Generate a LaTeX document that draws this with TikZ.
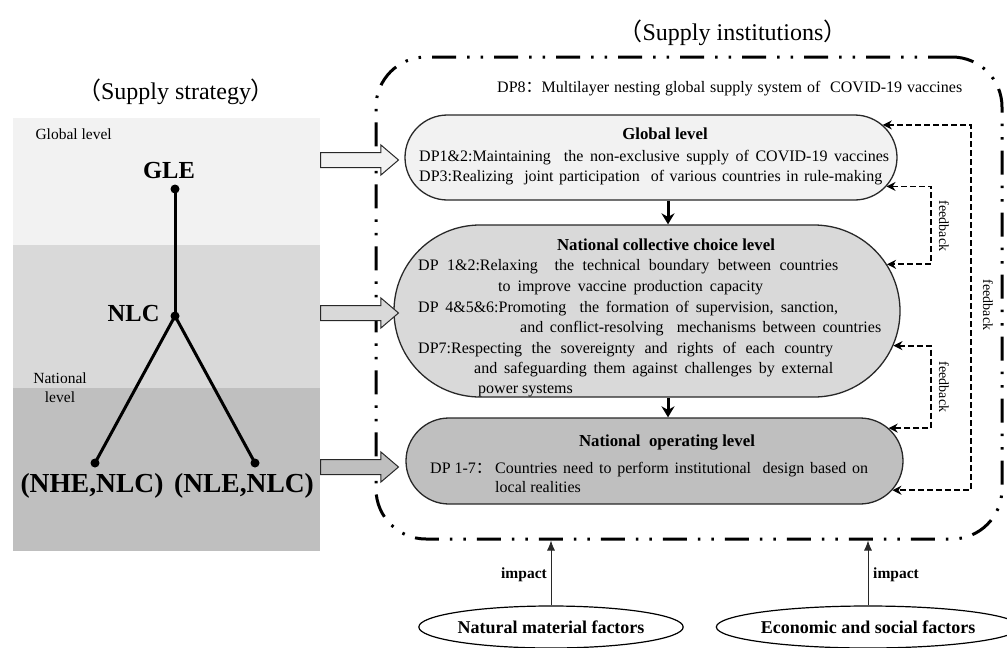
\documentclass[tikz,border=0pt]{standalone}
\usepackage{fontspec}
\setmainfont{Liberation Serif}
\newfontfamily\cjkfont{Noto Sans CJK SC}
\usepackage{tikz}
\usetikzlibrary{arrows,arrows.meta,shapes,positioning,calc}
\definecolor{lvlone}{RGB}{242,242,242}
\definecolor{lvltwo}{RGB}{217,217,217}
\definecolor{lvlthree}{RGB}{191,191,191}
\definecolor{edgegray}{RGB}{40,40,40}
\newcommand{\txtsize}{\fontsize{16pt}{19pt}\selectfont}
\newcommand{\titlesize}{\fontsize{24pt}{28pt}\selectfont}
\newcommand{\fitline}[2]{\makebox[#1][s]{#2}}
\tikzstyle{levelbox} = [rounded rectangle, draw=edgegray, line width=1.3pt, inner sep=0pt]
\tikzstyle{blockarrow} = [single arrow, draw=edgegray, line width=1pt, inner sep=0pt, inner ysep=7pt, minimum height=78pt, single arrow head extend=7.5pt, single arrow tip angle=81]
\tikzstyle{boxtext} = [anchor=base west, inner sep=0pt, font=\txtsize]
\tikzstyle{boxtitle} = [anchor=base, inner sep=0pt, font=\fontsize{16.8pt}{19pt}\selectfont\bfseries]
\tikzstyle{arrow} = [line width=3pt, -{Stealth[length=11pt,width=13pt]}]
\tikzstyle{fbarrow} = [line width=1.8pt, dash pattern=on 6pt off 3pt, {Stealth[length=9pt,width=9pt]}-{Stealth[length=9pt,width=9pt]}]
\tikzstyle{fblabel} = [rotate=-90, inner sep=0pt, font=\fontsize{14pt}{16pt}\selectfont]
\tikzstyle{impactarrow} = [line width=0.8pt, draw=edgegray, -{Latex[length=10pt,width=8pt]}]
\tikzstyle{impactlabel} = [inner sep=0pt, font=\fontsize{15.5pt}{17pt}\selectfont\bfseries]
\tikzstyle{factor} = [ellipse, draw=black, line width=1.2pt, inner sep=0pt, font=\fontsize{18pt}{20pt}\selectfont\bfseries]
\tikzstyle{dpframe} = [draw=black, line width=3pt, rounded corners=50pt, dash pattern=on 24pt off 11pt on 2.5pt off 11pt on 2.5pt off 11pt]
\tikzstyle{tree} = [line width=3pt]
\tikzstyle{dot} = [circle, fill=black, inner sep=0pt, minimum size=9pt]

\begin{document}
\begin{tikzpicture}[x=1pt, y=-1pt]
\useasboundingbox (0,0) rectangle (1007,648);

% Strategy panel
\fill[lvlone] (13,118) rectangle (320,245);
\fill[lvltwo] (13,245) rectangle (320,388);
\fill[lvlthree] (13,388) rectangle (320,551);
\node[font=\titlesize] (strat) at (176,92) {{\cjkfont （}Supply strategy{\cjkfont ）}};
\node[anchor=base west, font=\fontsize{15.5pt}{19pt}\selectfont] (glbl) at (32,139) {Global level};
\node[align=center, inner sep=0pt, font=\fontsize{15.5pt}{19pt}\selectfont] (nlbl) at (60,388) {National\\level};

\node[dot] (gledot) at (175,189) {};
\node[dot] (nlcdot) at (175,316) {};
\node[dot] (nhedot) at (95,463) {};
\node[dot] (nledot) at (255,463) {};
\draw[tree] (gledot.center) -- (nlcdot.center);
\draw[tree] (nlcdot.center) -- (nhedot.center);
\draw[tree] (nlcdot.center) -- (nledot.center);
\node[font=\fontsize{24.5pt}{26pt}\selectfont\bfseries] (gle) at (169,171) {GLE};
\node[anchor=east, font=\fontsize{24.5pt}{26pt}\selectfont\bfseries] (nlc) at (163,314) {NLC};
\node[font=\fontsize{27.5pt}{30pt}\selectfont\bfseries] (nhe) at (92,486) {(NHE,NLC)};
\node[font=\fontsize{27.5pt}{30pt}\selectfont\bfseries] (nle) at (244,486) {(NLE,NLC)};

% Institutions
\node[font=\titlesize] (inst) at (733,33) {{\cjkfont （}Supply institutions{\cjkfont ）}};
\node[dpframe, minimum width=626pt, minimum height=482pt] (frame) at (689,298) {};
\node[boxtext] (dp8) at (497,92) {\fitline{465pt}{DP8{\cjkfont ：}Multilayer nesting global supply system of\ \ COVID-19 vaccines}};

\node[levelbox, fill=lvlone, minimum width=492pt, minimum height=85pt] (box1) at (651,157.5) {};
\node[levelbox, fill=lvltwo, minimum width=506pt, minimum height=172pt] (box2) at (647,311) {};
\node[levelbox, fill=lvlthree, minimum width=497pt, minimum height=86pt] (box3) at (654.5,461) {};

\node[boxtitle] (t1) at (665,139) {Global level};
\node[boxtext] (g1) at (419,161) {\fitline{470pt}{DP1\&2:Maintaining\ \ the non-exclusive supply of COVID-19 vaccines}};
\node[boxtext] (g2) at (419,181) {\fitline{463pt}{DP3:Realizing\ \ joint participation\ \ of various countries in rule-making}};

\node[boxtitle] (t2) at (666,250) {National collective choice level};
\node[boxtext] (c1) at (418,270) {\fitline{420pt}{DP 1\&2:Relaxing\ \ the technical boundary between countries}};
\node[boxtext] (c2) at (498,291) {\fitline{265pt}{to improve vaccine production capacity}};
\node[boxtext] (c3) at (418,312) {\fitline{420pt}{DP 4\&5\&6:Promoting\ \ the formation of supervision, sanction,}};
\node[boxtext] (c4) at (520,332) {\fitline{361pt}{and conflict-resolving\ \ mechanisms between countries}};
\node[boxtext] (c5) at (418,353) {\fitline{415pt}{DP7:Respecting the sovereignty and rights of each country}};
\node[boxtext] (c6) at (474,373) {\fitline{359pt}{and safeguarding them against challenges by external}};
\node[boxtext] (c7) at (478,393) {power systems};

\node[boxtitle] (t3) at (667,446) {National\ \ operating level};
\node[boxtext] (o1) at (430,473) {DP 1-7{\cjkfont ：}};
\node[boxtext] (o2) at (495,473) {\fitline{373pt}{Countries need to perform institutional\ \ design based on}};
\node[boxtext] (o3) at (495,492) {local realities};

% Strategy to institutions
\node[blockarrow, fill=lvlone, anchor=tail] (arrA) at (320,160) {};
\node[blockarrow, fill=lvltwo, anchor=tail] (arrB) at (320,313) {};
\node[blockarrow, fill=lvlthree, anchor=tail] (arrC) at (320,467) {};

% Between levels
\coordinate (dnx) at (668,0);
\draw[arrow] (box1.south -| dnx) -- (box2.north -| dnx);
\draw[arrow] (box2.south -| dnx) -- (box3.north -| dnx);

% Feedback loops
\coordinate (fbcolA) at (931,0);
\coordinate (fbcolB) at (971,0);
\draw[fbarrow] (box1.-7) -- (box1.-7 -| fbcolA) |- (box2.11);
\draw[fbarrow] (box2.-8) -- (box2.-8 -| fbcolA) |- (box3.8);
\draw[fbarrow] (box1.8) -- (box1.8 -| fbcolB) |- (box3.-7);
\node[fblabel] (fbtxtA) at (944,226) {feedback};
\node[fblabel] (fbtxtB) at (944,387) {feedback};
\node[fblabel] (fbtxtC) at (988,305) {feedback};

% Outside factors
\node[factor, minimum width=252pt, minimum height=42pt] (natural) at (551,627) {Natural material factors};
\node[factor, minimum width=268pt, minimum height=42pt] (economic) at (868,627) {Economic and social factors};
\draw[impactarrow] (natural.north) -- (natural.north |- frame.south);
\draw[impactarrow] (economic.north) -- (economic.north |- frame.south);
\node[impactlabel, anchor=east] (implA) at (547,575) {impact};
\node[impactlabel, anchor=west] (implB) at (873,575) {impact};
\end{tikzpicture}
\end{document}
